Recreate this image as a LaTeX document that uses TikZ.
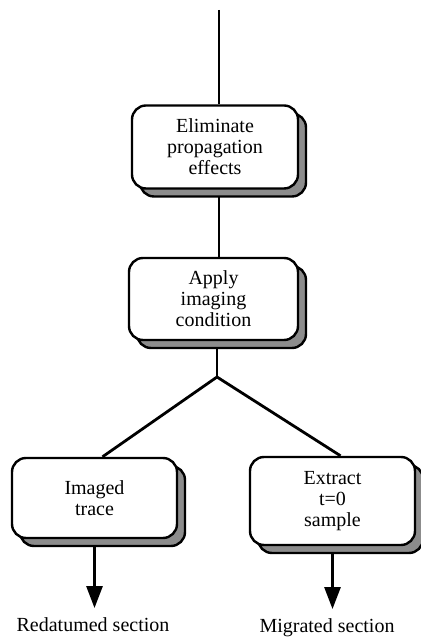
\documentclass[tikz,border=0pt]{standalone}
\usepackage{fontspec}
\setmainfont{Liberation Serif}
\usetikzlibrary{arrows.meta, shadows, backgrounds}

\begin{document}
\begin{tikzpicture}[x=0.5pt, y=0.5pt,
  procbox/.style={draw, line width=1.2pt, rounded corners=7pt, fill=white,
    align=center, font=\fontsize{10}{10.5}\selectfont, inner sep=2pt,
    drop shadow={shadow xshift=4pt, shadow yshift=-4pt, fill=black!45,
      draw=black, line width=1.2pt, opacity=1}},
  flow/.style={line width=1.4pt},
  outflow/.style={flow, -{Triangle[width=8pt, length=11pt]}, shorten >=1.5pt},
  outlbl/.style={font=\fontsize{10}{12}\selectfont, anchor=base}]
  \useasboundingbox (0,0) rectangle (421,637);
  % Process boxes
  \node[procbox, minimum width=83pt, minimum height=41.5pt] (elim) at (215,490)
    {Eliminate\\propagation\\effects};
  \node[procbox, minimum width=84.5pt, minimum height=41pt] (apply) at (213.5,338)
    {Apply\\imaging\\condition};
  \node[procbox, minimum width=82.5pt, minimum height=40pt] (imaged) at (94.5,139)
    {Imaged\\trace};
  \node[procbox, minimum width=82.5pt, minimum height=44pt] (extract) at (332.5,136)
    {Extract\\t=0\\sample};
  % Outputs
  \node[outlbl] (redat) at (93,5) {Redatumed section};
  \node[outlbl] (migr) at (327,4) {Migrated section};
  \coordinate (top) at (219,627);
  \coordinate (fork) at (217,260);
  % Connectors
  \begin{scope}[on background layer]
    \draw[flow] (top) -- (top |- elim.north);
    \draw[flow] (elim.south -| top) -- (apply.north -| top);
    \draw[flow] (apply.south -| fork) -- (fork);
    \draw[flow] (fork) -- ([xshift=4pt]imaged.north);
    \draw[flow] (fork) -- ([xshift=4pt]extract.north);
    \draw[outflow] (imaged.south) -- (imaged.south |- redat.north);
    \draw[outflow] (extract.south) -- (extract.south |- migr.north);
  \end{scope}
\end{tikzpicture}
\end{document}
